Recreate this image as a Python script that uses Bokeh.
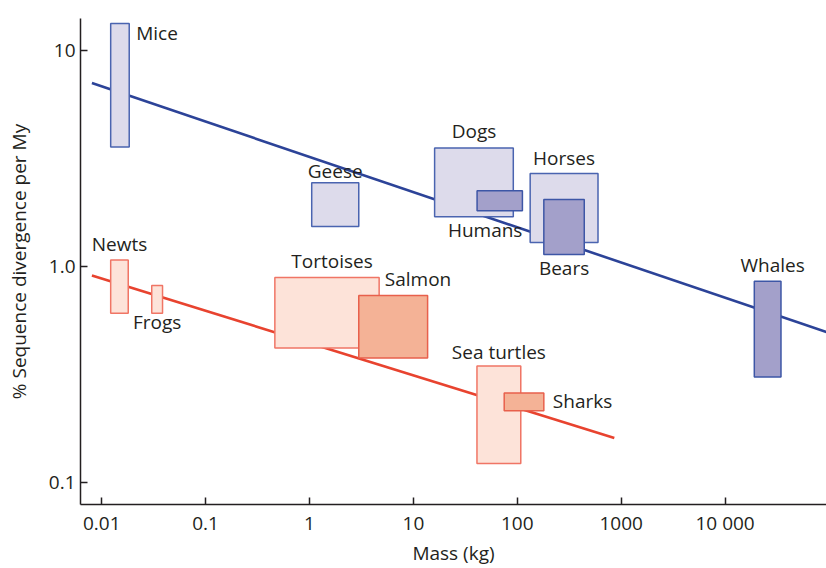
import numpy as np
from bokeh.plotting import figure
from bokeh.models import ColumnDataSource, FixedTicker, CustomJSTickFormatter, Range1d
from bokeh.core.properties import value
from bokeh.embed import file_html
from bokeh.resources import INLINE

# ---------------- data ----------------
groups = ["Mice", "Geese", "Dogs", "Humans", "Horses", "Bears", "Whales",
          "Newts", "Frogs", "Tortoises", "Salmon", "Sea turtles", "Sharks"]
mass_lo = [0.0122, 1.05, 16.0, 41.0, 133, 180, 19100,
           0.0122, 0.0303, 0.464, 2.98, 40.9, 74.8]
mass_hi = [0.0184, 2.98, 91.5, 112, 598, 441, 34500,
           0.0180, 0.0385, 4.68, 13.7, 108, 180]
rate_lo = [3.57, 1.53, 1.70, 1.81, 1.29, 1.135, 0.308,
           0.607, 0.607, 0.419, 0.377, 0.1225, 0.215]
rate_hi = [13.3, 2.44, 3.53, 2.24, 2.69, 2.04, 0.853,
           1.07, 0.817, 0.889, 0.734, 0.346, 0.260]
clade = ["endo"] * 7 + ["ecto"] * 6
shade = ["light", "light", "light", "dark", "light", "dark", "dark",
         "light", "light", "light", "dark", "light", "dark"]

endo_fit_mass = [0.00805, 94600]
endo_fit_rate = [7.05, 0.497]
ecto_fit_mass = [0.00805, 859]
ecto_fit_rate = [0.909, 0.161]

x_ticks = [0.01, 0.1, 1, 10, 100, 1000, 10000]
x_tick_labels = ["0.01", "0.1", "1", "10", "100", "1000", "10 000"]
y_ticks = [0.1, 1, 10]
y_tick_labels = ["0.1", "1.0", "10"]

# ---------------- styles ----------------
FONT = "Open Sans"
TXT = "#231f20"
FILL = {("endo", "light"): "#dddbeb", ("endo", "dark"): "#a3a0ca",
        ("ecto", "light"): "#fde3d9", ("ecto", "dark"): "#f4b296"}
EDGE = {("endo", "light"): "#4a64b0", ("endo", "dark"): "#3d56a6",
        ("ecto", "light"): "#f07565", ("ecto", "dark"): "#e8604c"}
LINE = {"endo": "#2c4398", "ecto": "#e8432f"}

# label placement: (x anchor, y anchor, align, dx px, dy px (down))
label_layout = {
    "Mice": ("right", "top", "left", 7, 9),
    "Geese": ("center", "top", "center", 0, -12),
    "Dogs": ("center", "top", "center", 0, -17),
    "Humans": ("right", "bottom", "right", 0, 19),
    "Horses": ("center", "top", "center", 0, -15.5),
    "Bears": ("center", "bottom", "center", 0, 13),
    "Whales": ("center", "top", "center", 5, -16),
    "Newts": ("center", "top", "center", 0, -16),
    "Frogs": ("center", "bottom", "center", 0, 9),
    "Tortoises": ("center", "top", "center", 5, -16),
    "Salmon": ("left", "top", "left", 26, -16),
    "Sea turtles": ("center", "top", "center", 0, -14.5),
    "Sharks": ("right", "bottom", "left", 9, -10),
}

p = figure(width=826, height=568, x_axis_type="log", y_axis_type="log",
           x_range=Range1d(0.00625, 94600), y_range=Range1d(0.0792, 14.03),
           output_backend="svg", toolbar_location=None,
           min_border_left=80, min_border_right=0, min_border_top=18,
           min_border_bottom=62)
p.outline_line_color = None
p.xgrid.visible = False
p.ygrid.visible = False
p.background_fill_color = "white"
p.border_fill_color = "white"

# regression lines (under the boxes)
p.line(endo_fit_mass, endo_fit_rate, line_color=LINE["endo"], line_width=2.6)
p.line(ecto_fit_mass, ecto_fit_rate, line_color=LINE["ecto"], line_width=2.6)

src = ColumnDataSource(dict(
    left=mass_lo, right=mass_hi, bottom=rate_lo, top=rate_hi,
    fill=[FILL[(c, s)] for c, s in zip(clade, shade)],
    edge=[EDGE[(c, s)] for c, s in zip(clade, shade)],
))
p.quad(left="left", right="right", bottom="bottom", top="top", source=src,
       fill_color="fill", line_color="edge", line_width=1.5)

for i, g in enumerate(groups):
    xa, ya, align, dx, dy = label_layout[g]
    if xa == "center":
        x = float(np.sqrt(mass_lo[i] * mass_hi[i]))
    elif xa == "right":
        x = mass_hi[i]
    else:
        x = mass_lo[i]
    if ya == "top":
        y = rate_hi[i]
    elif ya == "bottom":
        y = rate_lo[i]
    else:
        y = float(np.sqrt(rate_lo[i] * rate_hi[i]))
    p.text(x=[x], y=[y], text=[g], x_offset=dx, y_offset=dy,
           text_align=align, text_baseline="alphabetic",
           text_font=value(FONT), text_font_size="19px", text_color=TXT)

fmt_code = """
let best = -1;
for (let i = 0; i < vals.length; i++) {
  if (Math.abs(Math.log10(vals[i]) - Math.log10(tick)) < 1e-6) { best = i; }
}
return best >= 0 ? labels[best] : "";
"""
p.xaxis.ticker = FixedTicker(ticks=x_ticks, minor_ticks=[])
p.xaxis.formatter = CustomJSTickFormatter(args=dict(vals=x_ticks, labels=x_tick_labels), code=fmt_code)
p.yaxis.ticker = FixedTicker(ticks=y_ticks, minor_ticks=[])
p.yaxis.formatter = CustomJSTickFormatter(args=dict(vals=y_ticks, labels=y_tick_labels), code=fmt_code)

p.xaxis.axis_label = "Mass (kg)"
p.yaxis.axis_label = "% Sequence divergence per My"
for ax in (p.xaxis, p.yaxis):
    ax.axis_line_color = TXT
    ax.axis_line_width = 1.5
    ax.major_tick_line_color = TXT
    ax.major_tick_line_width = 1.5
    ax.major_tick_in = 7
    ax.major_tick_out = 0
    ax.minor_tick_in = 0
    ax.minor_tick_out = 0
    ax.major_label_text_font = FONT
    ax.major_label_text_font_size = "19px"
    ax.major_label_text_color = TXT
    ax.axis_label_text_font = FONT
    ax.axis_label_text_font_size = "19px"
    ax.axis_label_text_font_style = "normal"
    ax.axis_label_text_color = TXT
p.xaxis.major_label_standoff = 5
p.xaxis.axis_label_standoff = 1
p.yaxis.major_label_standoff = 5
p.yaxis.axis_label_standoff = 14

open("out.html", "w").write(file_html(p, INLINE))
